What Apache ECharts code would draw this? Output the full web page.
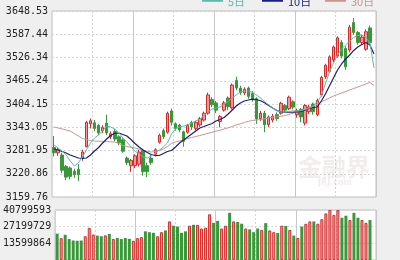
<!DOCTYPE html>
<html><head><meta charset="utf-8">
<script src="https://cdn.jsdelivr.net/npm/echarts@6/dist/echarts.min.js"></script>
<style>html,body{margin:0;padding:0;background:#efefef}#c{width:400px;height:260px}</style>
</head><body><div id="c"></div>
<script>
// daily candles: [open, close, low, high]
const ohlc = [
[3290,3276,3266,3320],[3276,3284,3268,3290],[3270,3230,3222,3276],[3240,3212,3204,3244],[3236,3214,3206,3240],
[3228,3218,3210,3234],[3232,3218,3202,3246],[3262,3278,3255,3284],[3292,3356,3290,3360],[3352,3360,3340,3366],
[3355,3340,3333,3362],[3348,3328,3322,3352],[3334,3342,3328,3348],[3354,3328,3322,3376],[3318,3326,3312,3332],
[3332,3312,3306,3338],[3318,3302,3296,3322],[3310,3280,3276,3314],[3262,3250,3244,3266],[3242,3256,3226,3260],
[3242,3268,3236,3272],[3246,3278,3240,3284],[3282,3226,3216,3286],[3242,3226,3212,3250],[3262,3250,3244,3270],
[3272,3284,3266,3288],[3304,3322,3300,3326],[3334,3318,3312,3340],[3330,3380,3326,3384],[3386,3356,3348,3392],
[3352,3340,3334,3356],[3349,3336,3330,3352],[3331,3306,3292,3334],[3330,3348,3326,3352],[3356,3344,3336,3360],
[3340,3356,3334,3360],[3349,3366,3344,3370],[3362,3380,3358,3384],[3380,3428,3376,3434],[3416,3402,3396,3422],
[3407,3388,3380,3412],[3358,3371,3343,3375],[3388,3407,3384,3412],[3420,3397,3388,3424],[3394,3454,3390,3458],
[3466,3446,3440,3476],[3446,3434,3428,3452],[3433,3443,3428,3448],[3446,3424,3418,3450],[3432,3415,3410,3438],
[3418,3365,3352,3422],[3366,3380,3360,3386],[3380,3350,3330,3386],[3350,3370,3344,3374],[3362,3372,3356,3378],
[3376,3366,3360,3382],[3380,3406,3376,3410],[3400,3388,3382,3404],[3392,3422,3388,3426],[3410,3396,3390,3414],
[3376,3386,3368,3392],[3390,3370,3356,3394],[3354,3400,3348,3404],[3384,3396,3378,3402],[3404,3384,3376,3408],
[3376,3414,3372,3418],[3428,3474,3424,3478],[3476,3506,3470,3510],[3490,3528,3486,3532],[3520,3554,3514,3558],
[3530,3578,3526,3582],[3566,3530,3524,3572],[3550,3502,3494,3556],[3546,3606,3540,3612],[3618,3592,3586,3630],
[3592,3566,3560,3596],[3566,3580,3560,3586],[3548,3594,3544,3600],[3604,3566,3560,3610]
];
const volume = [
21500000,17800000,20600000,17100000,15900000,15700000,15900000,19400000,26200000,20800000,
19900000,19400000,20100000,21300000,17100000,18000000,17100000,18000000,17300000,15700000,
17800000,18700000,23400000,22700000,22200000,19400000,22700000,24100000,31500000,28000000,
27300000,22200000,23400000,28000000,28700000,28700000,25700000,26400000,37300000,30300000,
31900000,25700000,28000000,38500000,31500000,31000000,29600000,25700000,25000000,22700000,
25700000,24500000,30100000,24100000,22700000,22000000,28000000,27800000,24500000,19900000,
18000000,27300000,29600000,31500000,31500000,29600000,33300000,38000000,40800000,36800000,
40800000,34500000,36100000,32600000,38500000,34500000,32600000,30300000,32600000
];
const ma5 = [
3296.4,3288.5,3280.6,3270.1,3254.4,3241.2,3249.1,3264.9,3283.3,3301.7,
3314.8,3322.7,3333.2,3346.3,3343.7,3338.5,3328.0,3314.8,3304.3,3291.2,
3280.6,3272.8,3264.9,3262.3,3267.5,3275.4,3283.3,3291.2,3301.7,3325.3,
3338.5,3343.7,3346.3,3349.0,3354.2,3359.5,3364.7,3372.6,3383.1,3391.0,
3393.7,3396.3,3402.9,3410.7,3420.0,3427.8,3435.7,3438.3,3438.3,3434.4,
3427.8,3419.9,3410.7,3401.5,3393.6,3387.1,3383.1,3383.1,3384.5,3385.8,
3385.8,3387.1,3389.7,3392.3,3398.9,3409.4,3425.2,3456.7,3488.3,3511.9,
3532.9,3548.7,3559.2,3569.7,3578.9,3584.2,3585.5,3578.9,3564.5,3498.8
];
const ma10 = [
3285.9,3283.3,3279.3,3275.4,3270.1,3266.2,3262.3,3261.5,3262.3,3270.1,
3280.6,3289.8,3301.7,3312.2,3321.4,3327.2,3327.9,3324.0,3320.1,3310.9,
3300.4,3291.2,3283.3,3276.7,3271.5,3268.8,3268.8,3274.1,3279.3,3281.9,
3291.2,3301.7,3309.6,3317.4,3325.3,3333.2,3341.1,3345.0,3349.0,3352.9,
3359.5,3363.4,3368.7,3377.9,3388.4,3398.9,3406.8,3412.0,3414.7,3416.8,
3416.0,3412.6,3407.3,3400.2,3393.6,3387.1,3383.1,3382.6,3382.4,3382.6,
3383.1,3384.5,3388.4,3392.3,3395.0,3396.3,3412.0,3430.4,3451.5,3472.5,
3493.5,3509.3,3522.4,3532.9,3544.8,3554.0,3560.5,3565.8,3559.2,3535.6
];
const ma30 = [
3343.7,3341.1,3338.5,3335.8,3333.2,3326.6,3320.1,3313.5,3310.9,3308.2,
3306.9,3306.4,3305.9,3305.4,3304.8,3304.3,3300.4,3295.1,3292.5,3290.4,
3288.5,3285.9,3282.5,3279.9,3278.0,3279.3,3281.9,3285.9,3292.5,3300.4,
3304.3,3306.9,3309.6,3313.5,3316.1,3318.7,3321.4,3324.0,3327.2,3329.8,
3332.7,3335.3,3338.5,3341.6,3345.0,3349.0,3352.1,3355.5,3358.7,3360.8,
3362.1,3363.4,3365.3,3367.4,3369.5,3370.8,3371.9,3373.7,3376.6,3380.0,
3383.1,3386.6,3391.0,3395.0,3398.9,3403.4,3409.4,3414.7,3420.0,3425.2,
3429.1,3433.1,3437.0,3441.0,3444.9,3448.8,3452.8,3456.7,3460.7,3452.8
];
const priceTicks = ['3159.76','3220.86','3281.95','3343.05','3404.15','3465.24','3526.34','3587.44','3648.53'];
const volTicks = ['0','13599864','27199729','40799593'];
const legendNames = ['5日','10日','30日'];
const categories = Array.from({length: 80}, (_, i) => 'D' + (i + 1));

const PMIN = 3159.76, PMAX = 3648.53, PINT = (PMAX - PMIN) / 8;
const VMAX = 40799593, VINT = VMAX / 3;
const UP = '#d42c2c', UPFILL = '#ee9a9a', DOWN = '#3a983a';
const C5 = '#62b8aa', C10 = '#1c1f78', C30 = '#c99494';

const volData = volume.map((v, i) => {
  const up = ohlc[i][1] >= ohlc[i][0];
  return {value: v, itemStyle: up ? {color: UPFILL, borderColor: UP, borderWidth: 1} : {color: DOWN, borderColor: DOWN, borderWidth: 0}};
});

const labelFont = {fontFamily: 'DejaVu Sans Mono, Liberation Mono, monospace', fontSize: 10, color: '#222'};
function catAxis(grid, pick, solid) {
  return {type: 'category', gridIndex: grid, data: categories, boundaryGap: true,
    axisLine: {show: false}, axisTick: {show: false}, axisLabel: {show: false},
    splitLine: {show: true, interval: (i) => pick(i),
      lineStyle: {color: solid ? '#c8c8c8' : '#d4d4d4', width: 1, type: solid ? 'solid' : [2, 2]}}};
}
const dashedPick = (i) => i % 20 === 10;
const solidPick = (i) => i % 20 === 0 && i > 0;

const SWATCH = 'path://M0,0L21,0L21,10L0,10Z M0,20L0.01,20L0.01,20.01Z';
function legendAt(left, name, color) {
  return {show: true, left: left, top: -13.3, orient: 'horizontal', data: [name], icon: SWATCH,
    itemWidth: 21, itemHeight: 20, itemGap: 0, selectedMode: false,
    itemStyle: {borderWidth: 0},
    textStyle: {color: color, fontSize: 11, fontFamily: 'Noto Sans CJK SC, sans-serif'}};
}

const chart = echarts.init(document.getElementById('c'), null, {renderer: 'canvas'});
chart.setOption({
  backgroundColor: '#efefef',
  animation: false,
  legend: [legendAt(197, legendNames[0], C5), legendAt(257, legendNames[1], C10), legendAt(320, legendNames[2], C30)],
  grid: [
    {left: 52, top: 11, width: 324, height: 186, show: true, backgroundColor: '#fff', borderColor: '#bdbdbd', borderWidth: 1},
    {left: 52, top: 210, width: 324, height: 58.5, show: true, backgroundColor: '#fff', borderColor: '#bdbdbd', borderWidth: 1}
  ],
  xAxis: [catAxis(0, dashedPick, false), catAxis(0, solidPick, true), catAxis(1, dashedPick, false), catAxis(1, solidPick, true)],
  yAxis: [
    {type: 'value', gridIndex: 0, min: PMIN, max: PMAX, interval: PINT, scale: true,
      axisLine: {show: false}, axisTick: {show: false},
      axisLabel: Object.assign({margin: 4, formatter: (v) => priceTicks[Math.round((v - PMIN) / PINT)] || ''}, labelFont),
      splitLine: {show: true, lineStyle: {color: '#d4d4d4', type: [2, 2]}}},
    {type: 'value', gridIndex: 1, min: 0, max: VMAX, interval: VINT,
      axisLine: {show: false}, axisTick: {show: false},
      axisLabel: Object.assign({margin: 4, formatter: (v) => { const k = Math.round(v / VINT); return k === 0 ? '' : (volTicks[k] || ''); }}, labelFont),
      splitLine: {show: true, lineStyle: {color: '#d4d4d4', type: [2, 2]}}}
  ],
  series: [
    {type: 'candlestick', name: 'K', xAxisIndex: 0, yAxisIndex: 0, data: ohlc, barWidth: 3,
      itemStyle: {color: UPFILL, color0: DOWN, borderColor: UP, borderColor0: DOWN, borderWidth: 1}},
    {type: 'line', name: legendNames[2], xAxisIndex: 0, yAxisIndex: 0, data: ma30, symbol: 'none', lineStyle: {color: C30, width: 1}, itemStyle: {color: C30}},
    {type: 'line', name: legendNames[1], xAxisIndex: 0, yAxisIndex: 0, data: ma10, symbol: 'none', lineStyle: {color: C10, width: 1.2}, itemStyle: {color: C10}},
    {type: 'line', name: legendNames[0], xAxisIndex: 0, yAxisIndex: 0, data: ma5, symbol: 'none', lineStyle: {color: C5, width: 1}, itemStyle: {color: C5}},
    {type: 'bar', name: 'VOL', xAxisIndex: 2, yAxisIndex: 1, data: volData, barWidth: 3}
  ],
  graphic: [
    {type: 'text', left: 298, top: 155, z: 1, silent: true, style: {text: '金融界', fill: 'rgba(200,185,185,0.25)', font: 'bold 24px "Noto Sans CJK SC", sans-serif'}},
    {type: 'text', left: 318, top: 179, z: 1, silent: true, style: {text: 'JRJ.com', fill: 'rgba(200,185,185,0.25)', font: 'bold 8px "DejaVu Sans", sans-serif'}}
  ]
});
</script></body></html>
